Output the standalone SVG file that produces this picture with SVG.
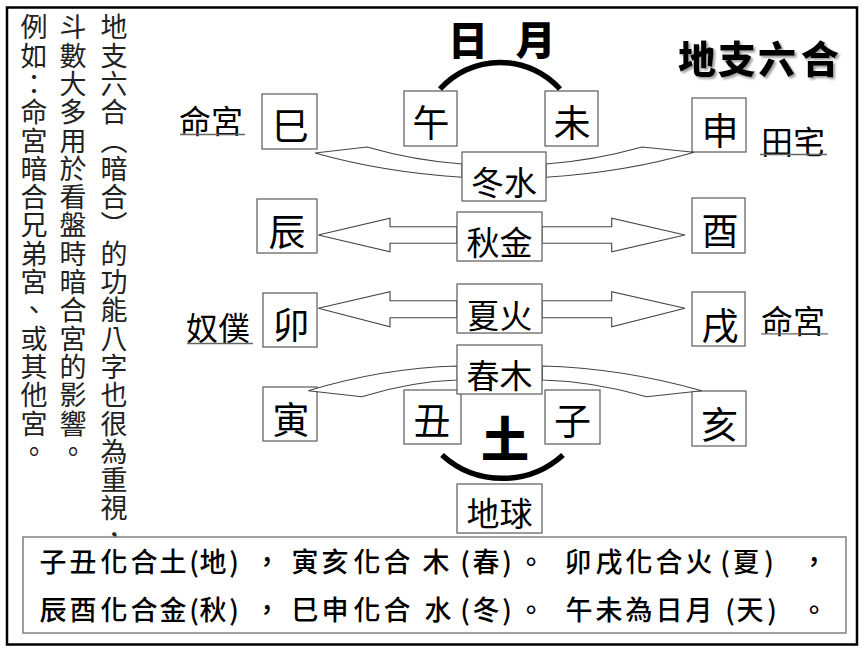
<svg xmlns="http://www.w3.org/2000/svg" width="868" height="655" viewBox="0 0 868 655">
<defs>
<filter id="shadow" x="-10%" y="-10%" width="130%" height="140%">
<feDropShadow dx="2" dy="2" stdDeviation="0.8" flood-color="#888" flood-opacity="0.8"/>
</filter>
</defs>
<style>
text{font-family:"Noto Sans CJK TC","Noto Sans CJK SC",sans-serif;fill:#000}
.box{fill:#fff;stroke:#5a5a5a;stroke-width:1.2}
.nd{font-size:37px;text-anchor:middle}
.lb{font-size:33px;text-anchor:middle}
.side{font-size:32px}
.ul{stroke:#666;stroke-width:1.3}
.col{font-size:27px;text-anchor:middle;fill:#222}
.arr{fill:#fff;stroke:#444;stroke-width:1.1;stroke-linejoin:miter}
.arc{fill:none;stroke:#000;stroke-width:5.5}
.bt{font-size:27px;text-anchor:middle;font-weight:500}
.ttl{font-weight:900;text-anchor:middle}
</style>
<rect x="7" y="7.5" width="850" height="637" fill="#fff" stroke="#000" stroke-width="2.5"/>

<g id="notes">
<text class="col" x="114 114 114 114 114 114 114 114 114 114 114 114 114 114 114 114 114 114 114" y="37.3 65.6 93.9 122.2 150.5 178.8 207.1 235.4 263.7 292 320.3 348.6 376.9 405.2 433.5 461.8 490.1 518.4 546.7">地支六合︵暗合︶的功能八字也很為重視，</text>
<text class="col" x="73 73 73 73 73 73 73 73 73 73 73 73 73 73 73 73" y="37.3 65.6 93.9 122.2 150.5 178.8 207.1 235.4 263.7 292 320.3 348.6 376.9 405.2 433.5 461.8">斗數大多用於看盤時暗合宮的影響。</text>
<text class="col" x="34 34 34 34 34 34 34 34 34 34 34 34 34 34 34 34" y="37.3 65.6 93.9 122.2 150.5 178.8 207.1 235.4 263.7 292 320.3 348.6 376.9 405.2 433.5 461.8">例如：命宮暗合兄弟宮、或其他宮。</text>
</g>

<g id="title">
<text class="ttl" x="697 737 777 820" y="73" font-size="38" filter="url(#shadow)">地支六合</text>
</g>

<g id="sun-moon">
<text class="ttl" x="468 535.5" y="54.5" font-size="40">日月</text>
</g>

<g id="nodes">
<g id="n-si"><rect class="box" x="262" y="94" width="55" height="55"/><text class="nd" x="290.5" y="140">巳</text></g>
<g id="n-wu"><rect class="box" x="404" y="91" width="53" height="55"/><text class="nd" x="431" y="137">午</text></g>
<g id="n-wei"><rect class="box" x="545" y="91" width="53" height="55"/><text class="nd" x="572" y="137">未</text></g>
<g id="n-shen"><rect class="box" x="692" y="98" width="54" height="54"/><text class="nd" x="720" y="145">申</text></g>
<g id="n-chen"><rect class="box" x="257" y="199" width="60" height="54"/><text class="nd" x="287" y="246">辰</text></g>
<g id="n-you"><rect class="box" x="692" y="198" width="53" height="55"/><text class="nd" x="720" y="245">酉</text></g>
<g id="n-mao"><rect class="box" x="263" y="293" width="54" height="54"/><text class="nd" x="291" y="339">卯</text></g>
<g id="n-xu"><rect class="box" x="692" y="292" width="53" height="54"/><text class="nd" x="720" y="340">戌</text></g>
<g id="n-yin"><rect class="box" x="263" y="387" width="54" height="54"/><text class="nd" x="291" y="434">寅</text></g>
<g id="n-chou"><rect class="box" x="404" y="390" width="57" height="54"/><text class="nd" x="432" y="435">丑</text></g>
<g id="n-zi"><rect class="box" x="545" y="390" width="55" height="54"/><text class="nd" x="572.5" y="435">子</text></g>
<g id="n-hai"><rect class="box" x="692" y="391" width="54" height="55"/><text class="nd" x="719.5" y="439">亥</text></g>
</g>

<g id="connectors">
<path class="arr" d="M462,164 Q414,160.5 367,147 L315,153 Q382,172 462,177.3 Z"/>
<path class="arr" d="M546,164 Q594,160.5 642,147 L694,152.3 Q627,172 546,177.3 Z"/>
<path class="arr" d="M457,226.7 L390,226.7 L390,218.3 L318.3,235 L390,251.7 L390,243.3 L457,243.3 Z"/>
<path class="arr" d="M542,226.7 L611.7,226.7 L611.7,218.3 L685,235 L611.7,251.7 L611.7,243.3 L542,243.3 Z"/>
<path class="arr" d="M457,300.7 L390,300.7 L390,291.7 L318.3,308.3 L390,326.7 L390,317.7 L457,317.7 Z"/>
<path class="arr" d="M542,300.7 L611.7,300.7 L611.7,291.7 L685,308.3 L611.7,326.7 L611.7,317.7 L542,317.7 Z"/>
<path class="arr" d="M457.3,366 Q383,368 308.3,390.7 L361.7,396.7 Q410.5,381.5 457.3,380 Z"/>
<path class="arr" d="M542.3,366 Q621,368 701.7,390.7 L646.7,396.7 Q594.5,381.5 542.3,380 Z"/>
<path class="arc" d="M440,89 A81,81 0 0 1 560,89"/>
<path class="arc" d="M442,455 A90,90 0 0 0 563,455"/>
</g>

<g id="labels">
<g id="l-dong"><rect class="box" x="462" y="152" width="84" height="49"/><text class="lb" x="504" y="194.5">冬水</text></g>
<g id="l-qiu"><rect class="box" x="457" y="212" width="85" height="49"/><text class="lb" x="499.5" y="254.5">秋金</text></g>
<g id="l-xia"><rect class="box" x="457" y="284" width="85" height="49"/><text class="lb" x="499.5" y="327.5">夏火</text></g>
<g id="l-chun"><rect class="box" x="457" y="345" width="85" height="49"/><text class="lb" x="499.5" y="387.5">春木</text></g>
<g id="l-diqiu"><rect class="box" x="457" y="484" width="85" height="49"/><text class="lb" x="499.5" y="525.5">地球</text></g>
<g id="earth"><text class="ttl" x="505" y="456.5" font-size="48">土</text></g>
</g>

<g id="palaces">
<text class="side" x="179" y="133">命宮</text><line class="ul" x1="180" y1="134.5" x2="245" y2="134.5"/>
<text class="side" x="761" y="153.7">田宅</text><line class="ul" x1="760" y1="154.5" x2="827" y2="154.5"/>
<text class="side" x="186" y="339.7">奴僕</text><line class="ul" x1="187" y1="343.5" x2="253" y2="343.5"/>
<text class="side" x="761" y="333.2">命宮</text><line class="ul" x1="761" y1="333.8" x2="828" y2="333.8"/>
</g>

<g id="summary">
<rect x="23" y="537" width="823" height="96" fill="#fff" stroke="#808080" stroke-width="1.5"/>
<text class="bt" x="53 83 114 144 173 194 213 234 267 305 335 367 397 436 465 486 507 531 578 609 639 669 699 725 746 769 814" y="571.8">子丑化合土(地)，寅亥化合木(春)。卯戌化合火(夏)，</text>
<text class="bt" x="53 83 114 144 173 194 213 234 267 305 335 367 397 438 465 486 507 531 579 609 639 669 699 730 750 772 814" y="619.8">辰酉化合金(秋)，巳申化合水(冬)。午未為日月(天)。</text>
</g>
</svg>
